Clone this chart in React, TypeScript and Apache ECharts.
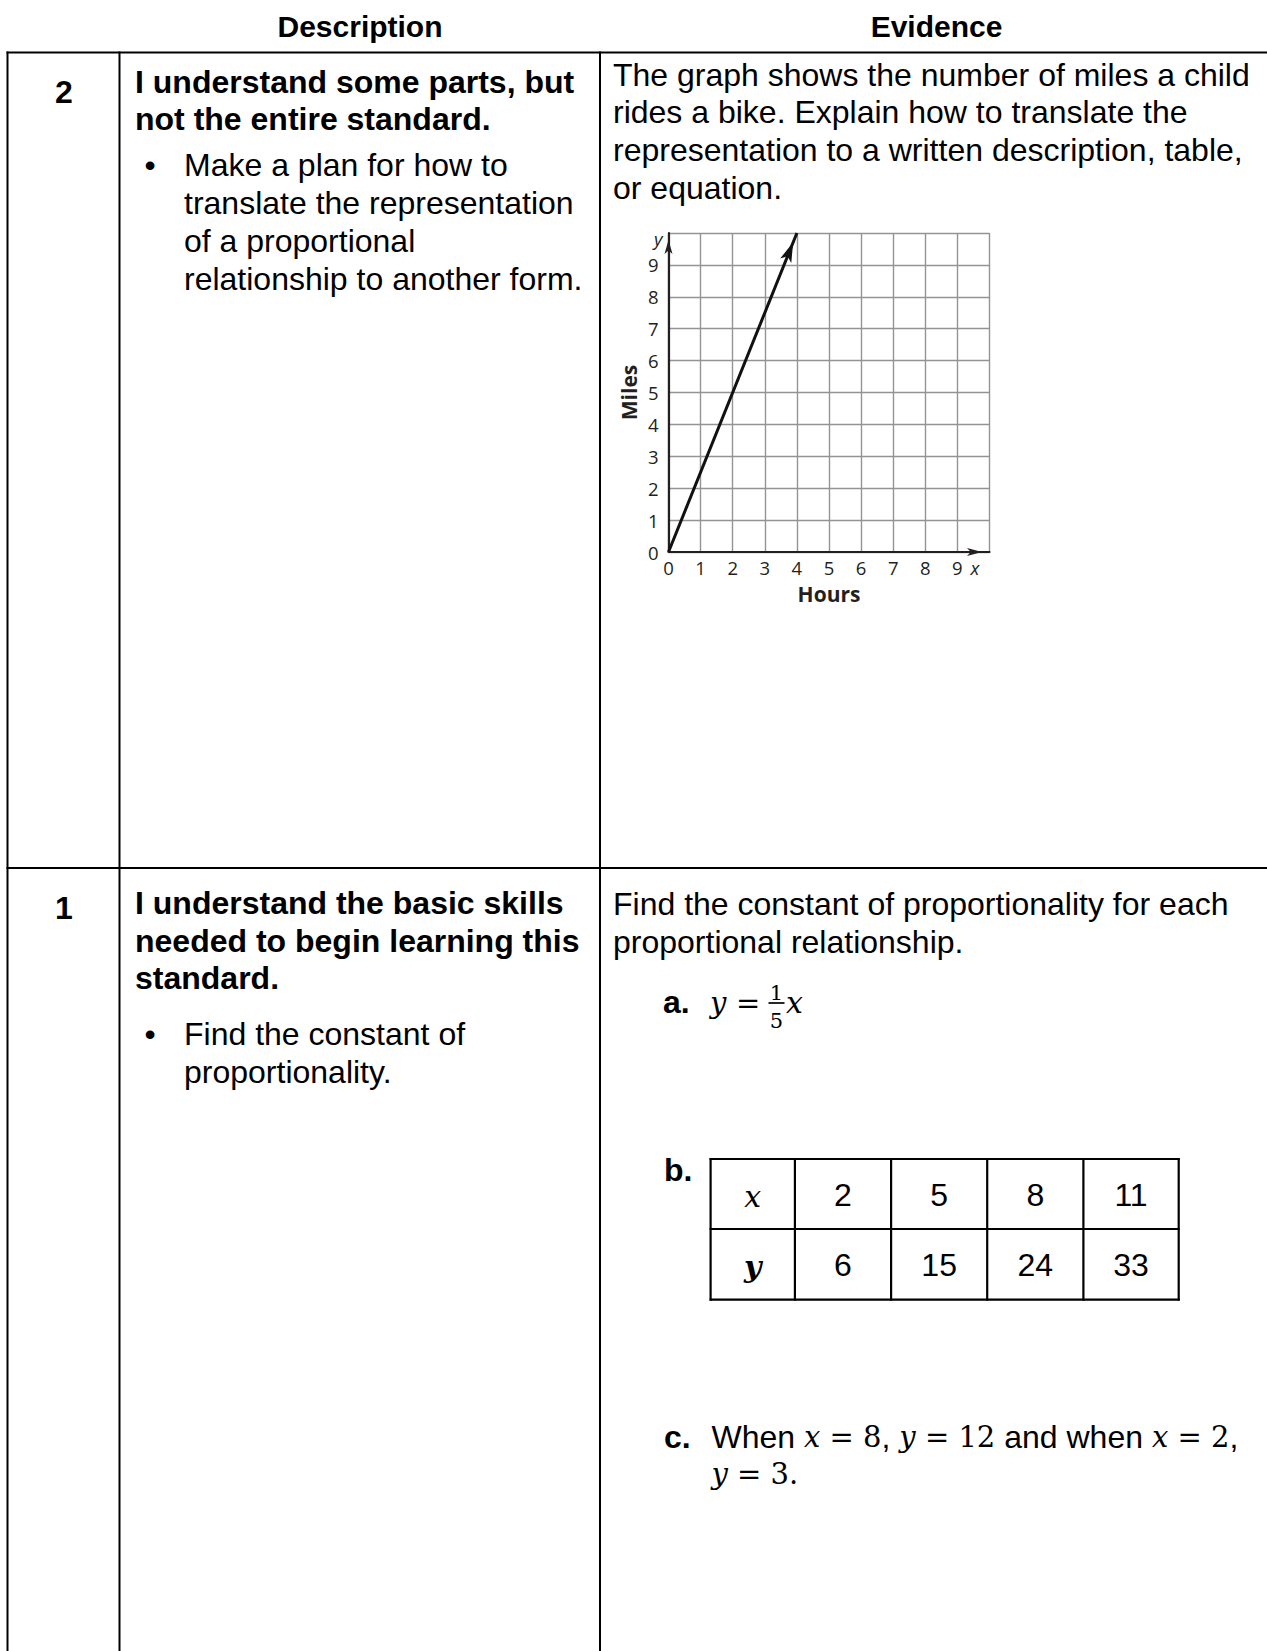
import React, { useEffect, useRef } from "react";
import * as echarts from "echarts";

// ---------- data ----------
const headers = ["Description", "Evidence"];
const levels = ["2", "1"];
const level2Title = ["I understand some parts, but", "not the entire standard."];
const level2Bullet = [
  "Make a plan for how to",
  "translate the representation",
  "of a proportional",
  "relationship to another form.",
];
const level2Evidence = [
  "The graph shows the number of miles a child",
  "rides a bike. Explain how to translate the",
  "representation to a written description, table,",
  "or equation.",
];
const level1Title = ["I understand the basic skills", "needed to begin learning this", "standard."];
const level1Bullet = ["Find the constant of", "proportionality."];
const level1Evidence = ["Find the constant of proportionality for each", "proportional relationship."];

// graph: miles ridden vs hours
const hoursTicks = [0, 1, 2, 3, 4, 5, 6, 7, 8, 9];
const milesTicks = [0, 1, 2, 3, 4, 5, 6, 7, 8, 9];
const milesLine: [number, number][] = [
  [0, 0],
  [4, 10],
];

// table in part b
const tableXValues = [2, 5, 8, 11];
const tableYValues = [6, 15, 24, 33];

// ---------- styling ----------
const SANS = "'Liberation Sans', Arial, Helvetica, sans-serif";
const MATH = "'DejaVu Serif', 'Liberation Serif', serif";
const GFONT = "'Open Sans', 'Noto Sans', sans-serif";
const BODY = 32;
const MSIZE = 29;
const INK = "#000";
const GINK = "#231f20";

const GRID = { left: 668.5, top: 233, width: 321, height: 319 };

function txt(
  text: string,
  x: number,
  base: number,
  o: { size?: number; bold?: boolean; italic?: boolean; family?: string; align?: string; rich?: any } = {}
) {
  const size = o.size ?? BODY;
  const align = o.align ?? "left";
  return {
    type: "text",
    x,
    y: base - 0.3465 * size,
    silent: true,
    style: {
      text,
      fontSize: size,
      fontFamily: o.family ?? SANS,
      fontWeight: o.bold ? "bold" : "normal",
      fontStyle: o.italic ? "italic" : "normal",
      fill: INK,
      align,
      textAlign: align,
      verticalAlign: "middle",
      textVerticalAlign: "middle",
      rich: o.rich,
    },
  };
}

function ln(x1: number, y1: number, x2: number, y2: number, w = 2) {
  return {
    type: "line",
    silent: true,
    shape: { x1, y1, x2, y2 },
    style: { stroke: INK, lineWidth: w },
  };
}

function buildGraphics() {
  const g: any[] = [];
  // table rules
  const colX = [7.5, 119.5, 600];
  const topY = 52.5;
  const rowY = 868;
  g.push(ln(6.5, topY, 1267, topY));
  g.push(ln(6.5, rowY, 1267, rowY));
  colX.forEach((x) => g.push(ln(x, topY - 1, x, 1651)));

  // headers
  g.push(txt(headers[0], 360, 37, { size: 30, bold: true, align: "center" }));
  g.push(txt(headers[1], 936.5, 37, { size: 30, bold: true, align: "center" }));

  // level numbers
  g.push(txt(levels[0], 64, 103, { bold: true, align: "center" }));
  g.push(txt(levels[1], 64, 919, { bold: true, align: "center" }));

  const titleX = 135;
  const bulletX = 150;
  const bulletTextX = 184;
  const evX = 613;

  // level 2 description
  level2Title.forEach((s, i) => g.push(txt(s, titleX, 93.5 + i * 36.3, { bold: true })));
  g.push(txt("\u2022", bulletX, 176.5, { align: "center" }));
  level2Bullet.forEach((s, i) => g.push(txt(s, bulletTextX, 176.5 + i * 37.8)));
  // level 2 evidence
  level2Evidence.forEach((s, i) => g.push(txt(s, evX, 85.8 + i * 37.7)));

  // level 1 description
  level1Title.forEach((s, i) => g.push(txt(s, titleX, 914.5 + i * 37.5, { bold: true })));
  g.push(txt("\u2022", bulletX, 1045.5, { align: "center" }));
  level1Bullet.forEach((s, i) => g.push(txt(s, bulletTextX, 1045.5 + i * 37.8)));
  // level 1 evidence
  level1Evidence.forEach((s, i) => g.push(txt(s, evX, 915 + i * 37.8)));

  // part a: y = 1/5 x
  const mathRich = {
    i: { fontFamily: MATH, fontStyle: "italic", fontSize: MSIZE, fill: INK },
    n: { fontFamily: MATH, fontSize: MSIZE, fill: INK },
    s: { fontFamily: SANS, fontSize: BODY, fill: INK },
  };
  g.push(txt("a.", 663, 1013, { bold: true }));
  g.push(txt("{i|y} {n|=}", 710, 1013, { family: MATH, size: 30, rich: mathRich }));
  g.push(txt("1", 776.5, 1000, { family: MATH, size: 21, align: "center" }));
  g.push(ln(768.5, 1003, 784.5, 1003, 1.7));
  g.push(txt("5", 776.5, 1028.5, { family: MATH, size: 21, align: "center" }));
  g.push(txt("x", 786, 1013, { family: MATH, size: 30, italic: true }));

  // part b: table
  g.push(txt("b.", 664, 1181, { bold: true }));
  const tcols = [710.6, 794.9, 891.1, 987.2, 1083.4, 1178.7];
  const trows = [1159, 1229, 1299.7];
  trows.forEach((y) => g.push(ln(tcols[0] - 1, y, tcols[tcols.length - 1] + 1, y, 2.2)));
  tcols.forEach((x) => g.push(ln(x, trows[0] - 1, x, trows[trows.length - 1] + 1, 2.2)));
  const cx = (k: number) => (tcols[k] + tcols[k + 1]) / 2;
  g.push(txt("x", cx(0), 1206.5, { family: MATH, italic: true, size: 30, align: "center" }));
  g.push(txt("y", cx(0), 1276.5, { family: MATH, italic: true, bold: true, size: 30, align: "center" }));
  tableXValues.forEach((v, k) => g.push(txt(String(v), cx(k + 1), 1206.5, { align: "center" })));
  tableYValues.forEach((v, k) => g.push(txt(String(v), cx(k + 1), 1276.5, { align: "center" })));

  // part c
  g.push(txt("c.", 664, 1448.5, { bold: true }));
  g.push(
    txt("{s|When }{i|x}{n| = 8}{s|, }{i|y}{n| = 12}{s| and when }{i|x}{n| = 2}{s|,}", 711.5, 1448.5, {
      rich: mathRich,
    })
  );
  g.push(txt("{i|y}{n| = 3.}", 711.5, 1485.5, { rich: mathRich }));
  return g;
}

function tipOffset(h: number) {
  // shift the arrow head so that its tip sits on the end point of the line
  const dx = 4 * (GRID.width / 10);
  const dy = 10 * (GRID.height / 10);
  const ang = Math.atan2(dy, dx);
  return { rot: (ang * 180) / Math.PI - 90, off: [(-Math.cos(ang) * h) / 2, (Math.sin(ang) * h) / 2] };
}

export default function App() {
  const ref = useRef<HTMLDivElement>(null);
  useEffect(() => {
    if (!ref.current) return;
    const chart = echarts.init(ref.current, undefined, { renderer: "svg" });
    const arrow = tipOffset(20);
    const axisLbl = { show: true, color: GINK, fontSize: 18.5, fontFamily: GFONT, showMaxLabel: false };
    chart.setOption({
      animation: false,
      backgroundColor: "#fff",
      grid: { ...GRID, containLabel: false },
      xAxis: [
        {
          type: "value",
          min: 0,
          max: 10,
          interval: 1,
          position: "bottom",
          axisLine: {
            show: true,
            onZero: false,
            lineStyle: { color: GINK, width: 2.2 },
            symbol: ["none", "arrow"],
            symbolSize: [6, 15],
            symbolOffset: [0, -7.5],
          },
          axisTick: { show: false },
          axisLabel: {
            ...axisLbl,
            margin: 6,
            formatter: (v: number) => (hoursTicks.includes(v) ? String(v) : ""),
          },
          splitLine: { show: true, lineStyle: { color: "#949494", width: 1.4 } },
          name: "x",
          nameLocation: "end",
          nameGap: -19,
          nameTextStyle: {
            fontFamily: GFONT,
            fontStyle: "italic",
            fontSize: 18.5,
            color: GINK,
            verticalAlign: "top",
            padding: [6, 0, 0, 0],
          },
        },
        {
          type: "value",
          min: 0,
          max: 10,
          position: "bottom",
          axisLine: { show: false },
          axisTick: { show: false },
          axisLabel: { show: false },
          splitLine: { show: false },
          name: "Hours",
          nameLocation: "middle",
          nameGap: 31,
          nameTextStyle: { fontFamily: GFONT, fontWeight: "bold", fontSize: 21, color: GINK },
        },
      ],
      yAxis: [
        {
          type: "value",
          min: 0,
          max: 10,
          interval: 1,
          position: "left",
          axisLine: {
            show: true,
            onZero: false,
            lineStyle: { color: GINK, width: 2.2 },
            symbol: ["none", "arrow"],
            symbolSize: [6, 14],
            symbolOffset: [0, -7],
          },
          axisTick: { show: false },
          axisLabel: {
            ...axisLbl,
            margin: 10,
            formatter: (v: number) => (milesTicks.includes(v) ? String(v) : ""),
          },
          splitLine: { show: true, lineStyle: { color: "#949494", width: 1.4 } },
          name: "y",
          nameLocation: "end",
          nameGap: -15,
          nameTextStyle: {
            fontFamily: GFONT,
            fontStyle: "italic",
            fontSize: 18.5,
            color: GINK,
            align: "right",
            padding: [0, 6, 0, 0],
          },
        },
        {
          type: "value",
          min: 0,
          max: 10,
          position: "left",
          axisLine: { show: false },
          axisTick: { show: false },
          axisLabel: { show: false },
          splitLine: { show: false },
          name: "Miles",
          nameLocation: "middle",
          nameRotate: 90,
          nameGap: 29,
          nameTextStyle: { fontFamily: GFONT, fontWeight: "bold", fontSize: 21, color: GINK },
        },
      ],
      series: [
        {
          type: "line",
          xAxisIndex: 0,
          yAxisIndex: 0,
          clip: false,
          showSymbol: true,
          symbol: "none",
          lineStyle: { color: "#111", width: 3 },
          itemStyle: { color: "#111" },
          data: milesLine.map((p, i) =>
            i === milesLine.length - 1
              ? {
                  value: p,
                  symbol: "arrow",
                  symbolSize: [9, 20],
                  symbolRotate: arrow.rot,
                  symbolOffset: arrow.off,
                }
              : { value: p, symbol: "none" }
          ),
        },
      ],
      graphic: buildGraphics(),
    });
    return () => chart.dispose();
  }, []);
  return (
    <div
      ref={ref}
      style={{ position: "absolute", left: 0, top: 0, width: 1267, height: 1651, background: "#fff" }}
    />
  );
}
